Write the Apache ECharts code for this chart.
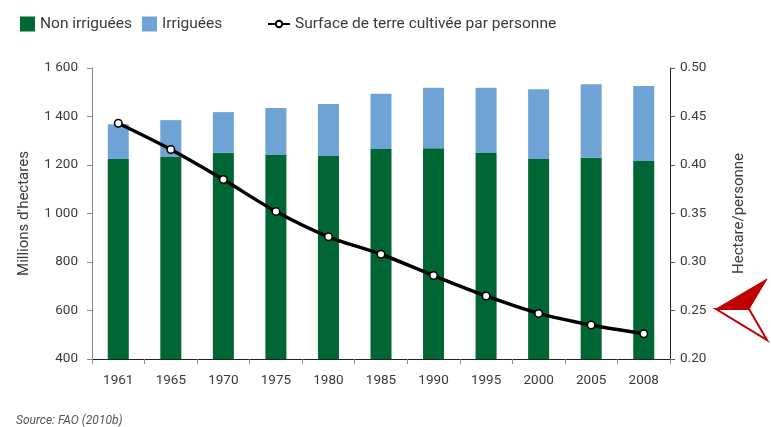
<!DOCTYPE html>
<html><head><meta charset="utf-8">
<script src="https://cdn.jsdelivr.net/npm/echarts@6/dist/echarts.min.js"></script>
<style>html,body{margin:0;padding:0;background:#fff}#c{width:771px;height:427px}</style>
</head><body><div id="c"></div>
<script>
var years = ['1961','1965','1970','1975','1980','1985','1990','1995','2000','2005','2008'];
var totalLand = [1368,1385,1418,1435,1452,1494,1519,1519,1512,1533,1526];
var nonIrrigated = [1225,1233,1250,1241,1237,1266,1269,1249,1225,1230,1216];
var irrigated = totalLand.map(function(t,i){return t - nonIrrigated[i];});
var perCapita = [0.443,0.416,0.385,0.352,0.326,0.308,0.286,0.265,0.247,0.235,0.226];
var leftTicks = {min:400, max:1600, interval:200};
var rightTicks = {min:0.20, max:0.50, interval:0.05};

var FONT = 'Roboto';
var chart = echarts.init(document.getElementById('c'), null, {renderer:'canvas'});
var labelColor = '#3a3a3a';
var legendText = {fontFamily:FONT,fontSize:15.5,color:labelColor};
chart.setOption({
  animation:false,
  backgroundColor:'#fff',
  textStyle:{fontFamily:FONT},
  legend:[
    {left:15, top:11, itemWidth:15, itemHeight:15, icon:'rect', data:['Non irriguées'], textStyle:legendText},
    {left:137, top:11, itemWidth:15, itemHeight:15, icon:'rect', data:['Irriguées'], textStyle:legendText},
    {left:262, top:11, itemWidth:22, itemHeight:8,
     data:['Surface de terre cultivée par personne'], textStyle:legendText}
  ],
  grid:{left:92, right:101, top:68, bottom:68},
  xAxis:{type:'category', data:years, boundaryGap:true,
    axisLine:{lineStyle:{color:'#222',width:1}},
    axisTick:{show:true, length:5, lineStyle:{color:'#888'}},
    axisLabel:{color:labelColor, fontSize:13.5, margin:15, fontFamily:FONT}},
  yAxis:[
    {type:'value', min:leftTicks.min, max:leftTicks.max, interval:leftTicks.interval,
     name:"Millions d'hectares", nameLocation:'middle', nameGap:60, nameRotate:90,
     nameTextStyle:{color:labelColor, fontSize:15, fontFamily:FONT},
     axisLine:{show:true, lineStyle:{color:'#888'}}, axisTick:{show:true,length:5,lineStyle:{color:'#888'}},
     splitLine:{show:false},
     axisLabel:{color:labelColor, fontSize:13.5, margin:14, fontFamily:FONT,
       formatter:function(v){return String(v).replace(/\B(?=(\d{3})+(?!\d))/g,' ');}}},
    {type:'value', min:rightTicks.min, max:rightTicks.max, interval:rightTicks.interval,
     name:'Hectare/personne', nameLocation:'middle', nameGap:62, nameRotate:90,
     nameTextStyle:{color:labelColor, fontSize:15, fontFamily:FONT},
     axisLine:{show:true, lineStyle:{color:'#222'}}, axisTick:{show:true,length:5,lineStyle:{color:'#555'}},
     splitLine:{show:false},
     axisLabel:{color:labelColor, fontSize:13.5, margin:10, fontFamily:FONT,
       formatter:function(v){return v.toFixed(2);}}}
  ],
  series:[
    {name:'Non irriguées', type:'bar', stack:'s', data:nonIrrigated, barWidth:'40%',
     itemStyle:{color:'#006633'}},
    {name:'Irriguées', type:'bar', stack:'s', data:irrigated, barWidth:'40%',
     itemStyle:{color:'#6fa3d5'}},
    {name:'Surface de terre cultivée par personne', type:'line', yAxisIndex:1, data:perCapita,
     smooth:0.3, symbol:'circle', symbolSize:7.5, showAllSymbol:true,
     lineStyle:{color:'#000', width:3.5},
     itemStyle:{color:'#fff', borderColor:'#000', borderWidth:1.5}, z:5}
  ],
  graphic:[
    {type:'text', left:16, top:415, style:{text:'Source: FAO (2010b)', fontFamily:FONT, fontSize:12, fontStyle:'italic', fill:'#555'}},
    {type:'polygon', shape:{points:[[716,309],[767,279],[749,309]]}, style:{fill:'#c00000', stroke:'#c00000', lineWidth:1}},
    {type:'polygon', shape:{points:[[716,309],[749,309],[767,340]]}, style:{fill:'#fff', stroke:'#c00000', lineWidth:2}}
  ]
});
</script></body></html>
